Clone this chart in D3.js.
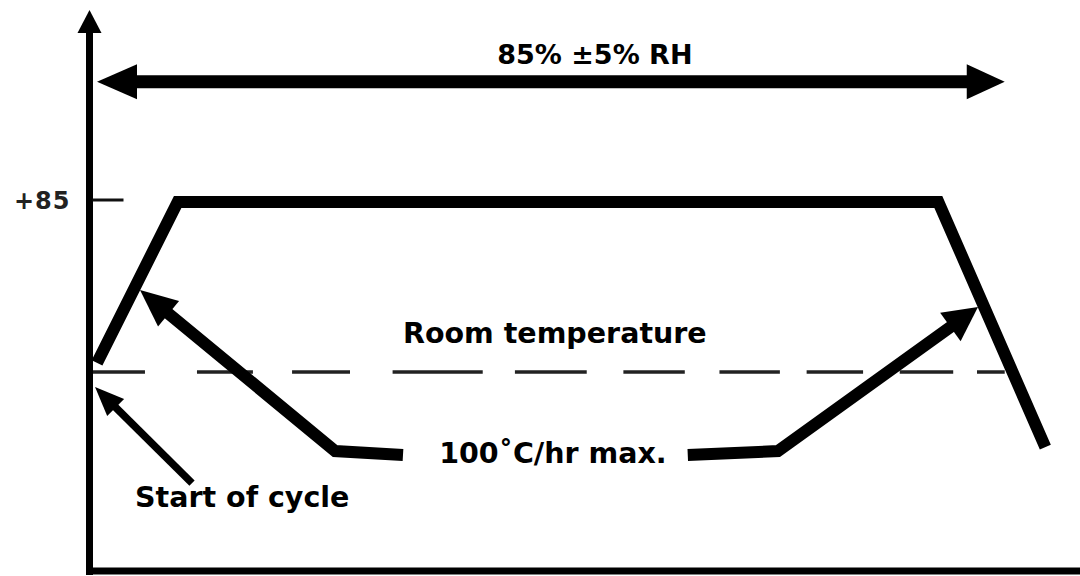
<!DOCTYPE html>
<html><head><meta charset="utf-8">
<script src="https://cdn.jsdelivr.net/npm/d3@7"></script>
<style>html,body{margin:0;padding:0;background:#fff;}svg{display:block;}</style>
</head><body>
<svg id="c" width="1080" height="576"></svg>
<script>
// ---- data (time in arbitrary units, temperature in °C) ----
const profileTime = [0.76, 8.9, 85.7, 96.5];
const profileTemp = [28.2, 85, 85, -1.5];
const roomTemp = 25;
const roomDashStart = [0.35, 10.85, 20.45, 30.6, 42.95, 53.9, 63.6, 72.4, 81.8, 89.6];
const roomDashEnd   = [5.6, 16.5, 26.3, 39.7, 50.2, 60.1, 69.7, 78.1, 87.2, 92.4];
const tickValues = [85];
const tickLabels = ["+85"];
const rhLabel = "85% ±5% RH";
const rhSpan = [0.76, 92.4];
const rhLevel = 127.4;
const rampLeftTime = [31.65, 24.8, 5.1];
const rampLeftTemp = [-4.3, -2.9, 53.9];
const rampRightTime = [60.4, 69.5, 89.7];
const rampRightTemp = [-4.3, -2.9, 47.9];
const startArrowTime = [10.35, 0.56];
const startArrowTemp = [-14.2, 19.7];
const labels = ["Room temperature", "100˚C/hr max.", "Start of cycle"];
const labelTime = [31.65, 35.3, 4.6];
const labelTemp = [35.1, -7.0, -22.6];
const xDomain = [0, 100];
const yDomain = [25, 85];
const yTop = 152.8, yBottom = -45.2;

// ---- scales ----
const x = d3.scaleLinear().domain(xDomain).range([89.5, 1080]);
const y = d3.scaleLinear().domain(yDomain).range([372, 202]);
const svg = d3.select("#c");
const line = d3.line().x(d => x(d[0])).y(d => y(d[1]));

function head(g, p0, p1, len, hw, color) {
  const dx = p1[0] - p0[0], dy = p1[1] - p0[1];
  const L = Math.hypot(dx, dy), ux = dx / L, uy = dy / L;
  const bx = p1[0] - ux * len, by = p1[1] - uy * len;
  g.append("path")
    .attr("d", `M${p1[0]},${p1[1]}L${bx - uy * hw},${by + ux * hw}L${bx + uy * hw},${by - ux * hw}Z`)
    .attr("fill", color);
  return [p1[0] - ux * (len - 2), p1[1] - uy * (len - 2)];
}

// ---- axes ----
const ax = svg.append("g");
const axX = x(xDomain[0]);
const tipY = y(yTop);
ax.append("line").attr("x1", axX).attr("x2", axX).attr("y1", y(yBottom) + 4).attr("y2", tipY + 20)
  .attr("stroke", "#000").attr("stroke-width", 7);
head(ax, [axX, tipY + 60], [axX, tipY], 23, 12, "#000");
ax.append("line").attr("x1", axX - 3.5).attr("x2", x(xDomain[1])).attr("y1", y(yBottom)).attr("y2", y(yBottom))
  .attr("stroke", "#000").attr("stroke-width", 7);

tickValues.forEach((v, i) => {
  ax.append("line").attr("x1", axX + 3).attr("x2", axX + 34).attr("y1", y(v) - 2).attr("y2", y(v) - 2)
    .attr("stroke", "#111").attr("stroke-width", 3);
  ax.append("text").attr("x", axX - 19).attr("y", y(v) + 7)
    .attr("text-anchor", "end").attr("font-family", "DejaVu Sans").attr("font-weight", "bold")
    .attr("font-size", 24).attr("letter-spacing", 1).attr("fill", "#222").text(tickLabels[i]);
});

// ---- room temperature dashes ----
roomDashStart.forEach((s, i) => {
  svg.append("line").attr("x1", x(s)).attr("x2", x(roomDashEnd[i]))
    .attr("y1", y(roomTemp)).attr("y2", y(roomTemp))
    .attr("stroke", "#222").attr("stroke-width", 3.5);
});

// ---- RH double arrow ----
const rg = svg.append("g");
const r0 = [x(rhSpan[0]), y(rhLevel)], r1 = [x(rhSpan[1]), y(rhLevel)];
const a1 = head(rg, r1, r0, 40, 17.5, "#000");
const a2 = head(rg, r0, r1, 38, 17.5, "#000");
rg.append("line").attr("x1", a1[0]).attr("x2", a2[0]).attr("y1", r0[1]).attr("y2", r1[1])
  .attr("stroke", "#000").attr("stroke-width", 13);
rg.append("text").attr("x", x((rhSpan[0] + rhSpan[1]) / 2) + 44).attr("y", y(rhLevel) - 18)
  .attr("text-anchor", "middle").attr("font-family", "DejaVu Sans").attr("font-weight", "bold")
  .attr("font-size", 27).attr("fill", "#000").text(rhLabel);

// ---- temperature profile ----
svg.append("path").datum(profileTime.map((t, i) => [t, profileTemp[i]]))
  .attr("d", line).attr("fill", "none").attr("stroke", "#000").attr("stroke-width", 12)
  .attr("stroke-linejoin", "miter").attr("stroke-linecap", "butt");

// ---- ramp-rate annotation arrows ----
function arrowPoly(times, temps, w, len, hw) {
  const g = svg.append("g");
  const pts = times.map((t, i) => [x(t), y(temps[i])]);
  const n = pts.length;
  const base = head(g, pts[n - 2], pts[n - 1], len, hw, "#000");
  const lp = pts.slice(0, n - 1).concat([base]);
  g.append("path").attr("d", d3.line()(lp)).attr("fill", "none").attr("stroke", "#000")
    .attr("stroke-width", w).attr("stroke-linejoin", "miter").attr("stroke-linecap", "butt");
}
arrowPoly(rampLeftTime, rampLeftTemp, 12, 37, 16.5);
arrowPoly(rampRightTime, rampRightTemp, 12, 34, 17.5);
arrowPoly(startArrowTime, startArrowTemp, 7.5, 29, 12);

// ---- labels ----
labels.forEach((t, i) => {
  svg.append("text").attr("x", x(labelTime[i])).attr("y", y(labelTemp[i]))
    .attr("font-family", "DejaVu Sans").attr("font-weight", "bold").attr("font-size", 28.5)
    .attr("fill", "#000").text(t);
});
</script>
</body></html>
